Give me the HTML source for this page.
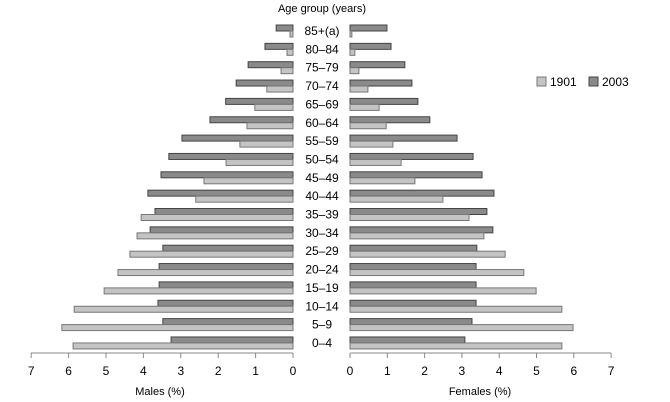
<!DOCTYPE html>
<html><head><meta charset="utf-8"><style>
html,body{margin:0;padding:0;background:#fff;}
svg{display:block;font-family:"Liberation Sans",sans-serif;}
</style></head><body>
<svg id="c" width="670" height="402" viewBox="0 0 670 402" xmlns="http://www.w3.org/2000/svg">
<text x="322" y="12" font-size="11" text-anchor="middle" fill="#000">Age group (years)</text>
<g id="g"></g>
<line x1="31" y1="353" x2="293" y2="353" stroke="#888"/>
<line x1="350" y1="353" x2="611" y2="353" stroke="#888"/>
<text x="160" y="395" font-size="11" text-anchor="middle">Males (%)</text>
<text x="480" y="395" font-size="11" text-anchor="middle">Females (%)</text>
<rect x="537" y="77" width="9" height="9" fill="#c4c4c4" stroke="#777"/>
<text x="550" y="86" font-size="12">1901</text>
<rect x="589" y="77" width="9" height="9" fill="#8a8a8a" stroke="#444"/>
<text x="602" y="86" font-size="12">2003</text>
</svg>
<script>
var labels=["85+(a)","80–84","75–79","70–74","65–69","60–64","55–59","50–54","45–49","40–44","35–39","30–34","25–29","20–24","15–19","10–14","5–9","0–4"];
var m03=[0.45,0.75,1.2,1.52,1.8,2.22,2.97,3.32,3.53,3.88,3.69,3.82,3.48,3.58,3.58,3.61,3.48,3.26];
var m01=[0.08,0.16,0.32,0.7,1.02,1.23,1.42,1.79,2.38,2.6,4.06,4.17,4.36,4.68,5.05,5.85,6.18,5.88];
var f03=[0.99,1.1,1.47,1.66,1.82,2.14,2.87,3.3,3.54,3.86,3.67,3.83,3.4,3.38,3.38,3.38,3.27,3.08];
var f01=[0.05,0.13,0.24,0.48,0.78,0.97,1.15,1.37,1.74,2.49,3.19,3.59,4.16,4.66,4.99,5.68,5.98,5.68];
var s='',u=37.4,uf=37.3;
for(var i=0;i<18;i++){
 var c=31+i*18.35;
 var w;
 w=m03[i]*u; s+='<rect x="'+(293-w)+'" y="'+(c-6)+'" width="'+w+'" height="6" fill="#8a8a8a" stroke="#444" stroke-width="1"/>';
 w=m01[i]*u; s+='<rect x="'+(293-w)+'" y="'+c+'" width="'+w+'" height="6" fill="#c4c4c4" stroke="#777" stroke-width="1"/>';
 w=f03[i]*uf; s+='<rect x="350" y="'+(c-6)+'" width="'+w+'" height="6" fill="#8a8a8a" stroke="#444" stroke-width="1"/>';
 w=f01[i]*uf; s+='<rect x="350" y="'+c+'" width="'+w+'" height="6" fill="#c4c4c4" stroke="#777" stroke-width="1"/>';
 s+='<text x="322" y="'+(c+4)+'" font-size="12" text-anchor="middle">'+labels[i]+'</text>';
}
for(var k=0;k<=7;k++){
 var xl=293-k*u, xr=350+k*uf;
 s+='<line x1="'+xl+'" y1="353" x2="'+xl+'" y2="358" stroke="#888"/>';
 s+='<line x1="'+xr+'" y1="353" x2="'+xr+'" y2="358" stroke="#888"/>';
 s+='<text x="'+xl+'" y="375" font-size="12" text-anchor="middle">'+k+'</text>';
 s+='<text x="'+xr+'" y="375" font-size="12" text-anchor="middle">'+k+'</text>';
}
document.getElementById('g').innerHTML=s;
</script>
</body></html>
